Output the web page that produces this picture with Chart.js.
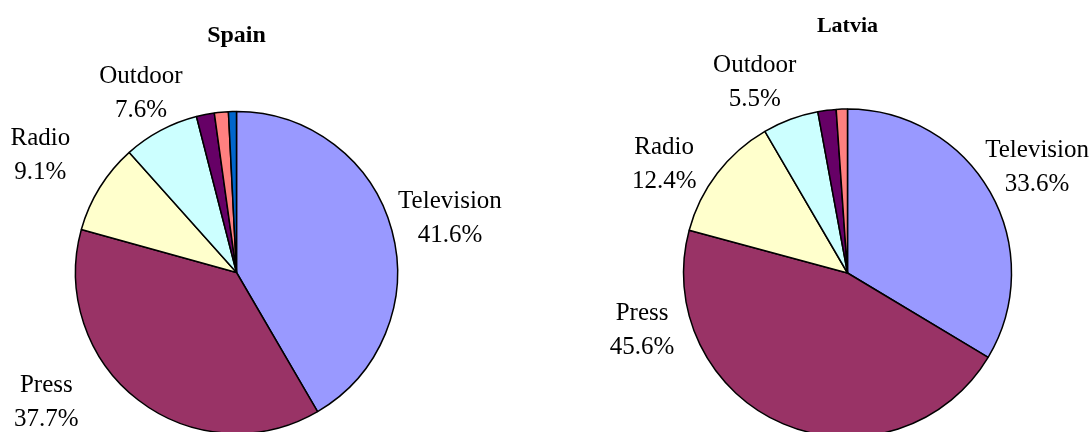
<!DOCTYPE html>
<html>
<head>
<meta charset="utf-8">
<script src="https://cdn.jsdelivr.net/npm/chart.js@4/dist/chart.umd.min.js"></script>
<style>
    body { margin: 0; width: 1090px; height: 432px; overflow: hidden; background: #fff; }
    .box { position: absolute; top: 0; width: 545px; height: 440px; }
</style>
</head>
<body>
<div class="box" style="left:0"><canvas id="graficoSpain"></canvas></div>
<div class="box" style="left:545px"><canvas id="graficoLatvia"></canvas></div>
<script>
// media categories, shares in %
const categorias = ['Television', 'Press', 'Radio', 'Outdoor', 'Cinema', 'Internet', 'Other']
const spainShares = [41.6, 37.7, 9.1, 7.6, 1.8, 1.4, 0.8]
const latviaShares = [33.6, 45.6, 12.4, 5.5, 1.8, 1.1, 0]
const cores = ['#9999FF', '#993366', '#FFFFCC', '#CCFFFF', '#660066', '#FF8080', '#0066CC']

// label name + percent, outside the slice
const rotulos = {
    id: 'rotulos',
    afterDatasetsDraw(chart, args, opts) {
        const ctx = chart.ctx
        const arcs = chart.getDatasetMeta(0).data
        const valores = chart.data.datasets[0].data
        ctx.save()
        ctx.font = opts.font
        ctx.fillStyle = '#000'
        ctx.textAlign = 'center'
        ctx.textBaseline = 'middle'
        arcs.forEach(function (arc, i) {
            if (valores[i] < 5) return
            const p = arc.getProps(['x', 'y', 'startAngle', 'endAngle', 'outerRadius'], true)
            let ang = (p.startAngle + p.endAngle) / 2
            let fator = 1.35
            const spot = opts.spots[i]
            if (spot) {
                ang = spot[0] * Math.PI / 180 - Math.PI / 2
                fator = spot[1]
            }
            let lx = p.x + Math.cos(ang) * p.outerRadius * fator
            const ly = p.y + Math.sin(ang) * p.outerRadius * fator
            const linha1 = chart.data.labels[i]
            const linha2 = valores[i].toFixed(1) + '%'
            const meia = Math.max(ctx.measureText(linha1).width, ctx.measureText(linha2).width) / 2
            lx = Math.min(Math.max(lx, meia + 1), chart.width - meia - 1)
            ctx.fillText(linha1, lx, ly - opts.lineGap / 2)
            ctx.fillText(linha2, lx, ly + opts.lineGap / 2)
        })
        ctx.restore()
    }
}

function criarPizza(id, titulo, valores, cfg) {
    const ctx = document.getElementById(id).getContext('2d')
    ctx.canvas.width = 545
    ctx.canvas.height = 440
    return new Chart(ctx, {
        type: 'pie',
        data: {
            labels: categorias,
            datasets: [{
                data: valores,
                backgroundColor: cores,
                borderColor: '#000',
                borderWidth: 1.5,
                hoverOffset: 0
            }]
        },
        options: {
            responsive: false,
            animation: false,
            events: [],
            radius: cfg.radius,
            layout: { padding: cfg.padding },
            plugins: {
                legend: { display: false },
                tooltip: { enabled: false },
                title: {
                    display: true,
                    text: titulo,
                    color: '#000',
                    font: { family: '"Liberation Serif", "Times New Roman", serif', size: cfg.titleSize, weight: 'bold', lineHeight: 1.2 },
                    padding: cfg.titlePadding
                },
                rotulos: {
                    font: '25px "Liberation Serif", "Times New Roman", serif',
                    lineGap: 34,
                    spots: cfg.spots
                }
            }
        },
        plugins: [rotulos]
    })
}

criarPizza('graficoSpain', 'Spain', spainShares, {
    radius: 161,
    padding: { left: 75.5, right: 147.5, top: 0, bottom: 6.5 },
    titleSize: 24,
    titlePadding: { top: 21.6, bottom: 61.1 },
    spots: [[75.9, 1.367], [235.7, 1.43], [300.9, 1.42], [331.9, 1.26]]
})

criarPizza('graficoLatvia', 'Latvia', latviaShares, {
    radius: 164,
    padding: { left: 138.5, right: 78.5, top: 0, bottom: 3 },
    titleSize: 22,
    titlePadding: { top: 12.8, bottom: 69.8 },
    spots: [[61.7, 1.36], [254.5, 1.30], [300.7, 1.30], [334, 1.29]]
})
</script>
</body>
</html>
